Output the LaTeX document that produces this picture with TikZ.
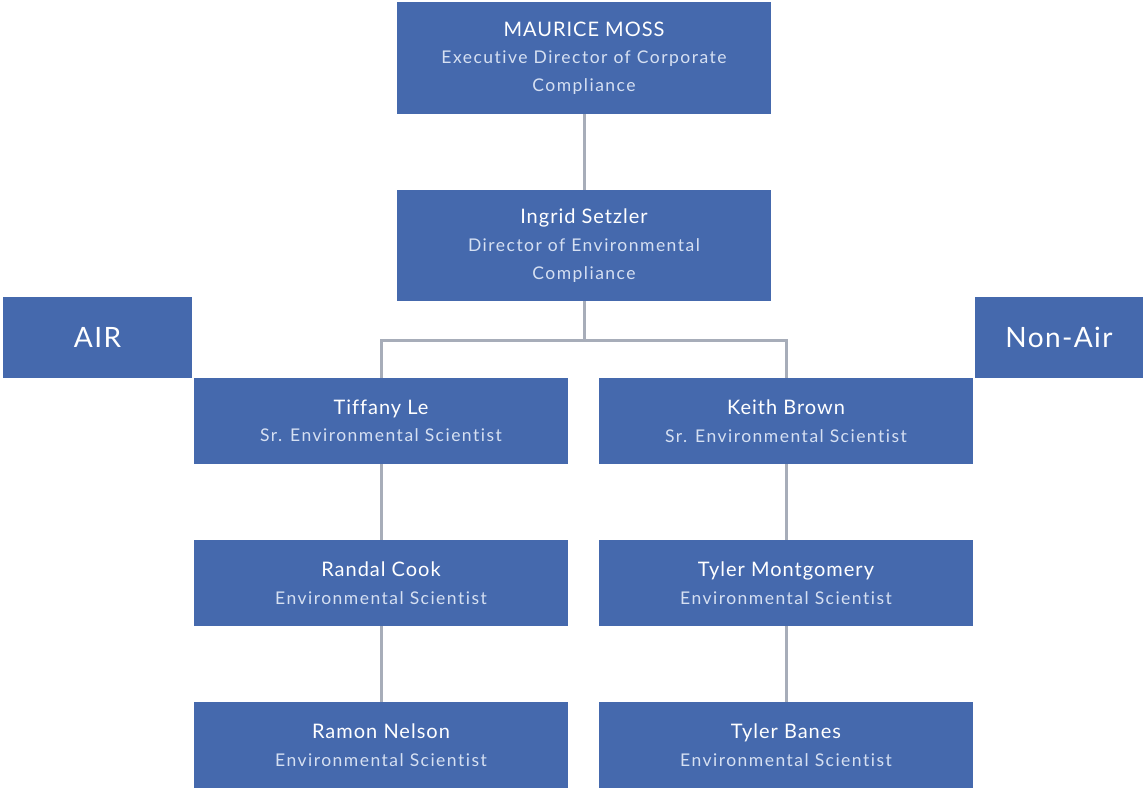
\documentclass[tikz,border=0pt]{standalone}
\usepackage{fontspec}
\setmainfont{Lato}
\newfontfamily\namefont[LetterSpace=5,Ligatures=NoCommon]{Lato}
\newfontfamily\subfont[LetterSpace=8.5,Ligatures=NoCommon]{Lato}
\newfontfamily\sidefont[LetterSpace=5,Ligatures=NoCommon]{Lato}
\definecolor{boxblue}{HTML}{4569AD}
\definecolor{subtxt}{HTML}{D6E0F2}
\definecolor{linegray}{HTML}{A7ADB9}
\begin{document}
\begin{tikzpicture}[x=1pt,y=-1pt,
  box/.style={fill=boxblue,draw=none,inner sep=0pt,align=center,text=white,
    font=\namefont\fontsize{20}{27.5}\selectfont},
  bigbox/.style={box,minimum width=374pt,minimum height=112pt},
  midbox/.style={box,minimum width=374pt,minimum height=86pt},
  side/.style={box,minimum height=81pt,font=\sidefont\fontsize{28}{32}\selectfont},
  conn/.style={draw=linegray,line width=3pt}]
\useasboundingbox (0,0) rectangle (1144,788);
\newcommand{\sub}[1]{{\color{subtxt}\subfont\fontsize{17.5}{26}\selectfont #1}}
\node[bigbox] (moss) at (584,58) {MAURICE MOSS\\\sub{Executive Director of Corporate}\\\sub{Compliance}};
\node[bigbox,minimum height=111pt] (ing) at (584,245.5) {Ingrid Setzler\\[1pt]\sub{Director of Environmental}\\\sub{Compliance}};
\node[side,minimum width=189pt] (air) at (97.5,337.5) {AIR};
\node[side,minimum width=168pt] (nonair) at (1059,337.5) {Non-Air};
\node[midbox] (tif) at (381,421) {Tiffany Le\\\sub{Sr. Environmental Scientist}};
\node[midbox] (kei) at (786,421) {Keith Brown\\\sub{Sr. Environmental Scientist}};
\node[midbox] (ran) at (381,583) {Randal Cook\\\sub{Environmental Scientist}};
\node[midbox] (tym) at (786,583) {Tyler Montgomery\\\sub{Environmental Scientist}};
\node[midbox] (ram) at (381,745) {Ramon Nelson\\\sub{Environmental Scientist}};
\node[midbox] (tyb) at (786,745) {Tyler Banes\\\sub{Environmental Scientist}};
\coordinate (split) at (584,340);
\draw[conn] (moss.south) -- (ing.north);
\draw[conn] (ing.south) -- (split);
\draw[conn] (split) -| (tif.north);
\draw[conn] (split) -| (kei.north);
\draw[conn] (tif.south) -- (ran.north);
\draw[conn] (ran.south) -- (ram.north);
\draw[conn] (kei.south) -- (tym.north);
\draw[conn] (tym.south) -- (tyb.north);
\end{tikzpicture}
\end{document}
